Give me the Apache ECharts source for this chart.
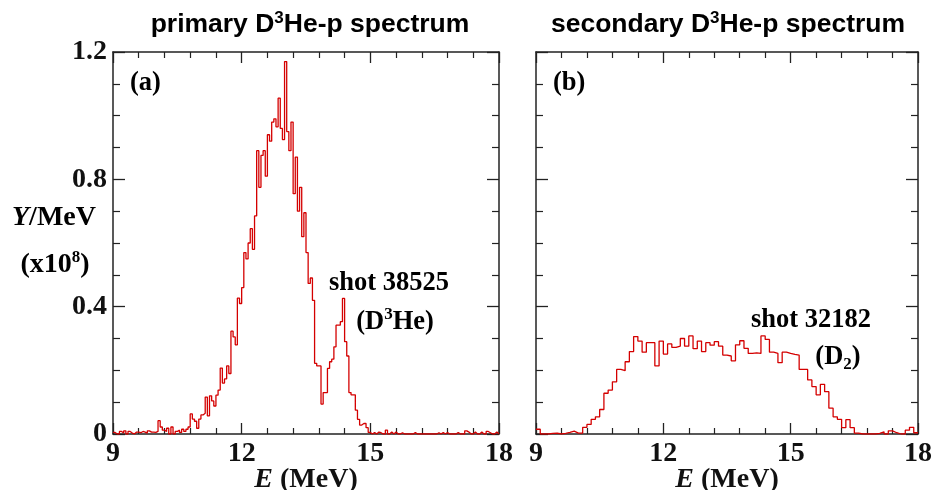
<!DOCTYPE html>
<html><head><meta charset="utf-8">
<script src="https://cdn.jsdelivr.net/npm/echarts@6/dist/echarts.min.js"></script>
<style>html,body{margin:0;padding:0;background:#fff}#c{width:937px;height:490px}</style>
</head><body><div id="c"></div>
<script>
// ---- data ----
const xTicks = [9, 12, 15, 18];
const yTicks = [0, 0.4, 0.8, 1.2];
const primaryBinStart = 9, primaryBinWidth = 0.05;
const secondaryBinStart = 9, secondaryBinWidth = 0.1;
const primaryCounts = [
  0.005,0,0,0.008,0.003,0.01,0,0.008,0.003,0,
  0.006,0.006,0.004,0.008,0.006,0.003,0.01,0.006,0.006,0.005,
  0.008,0.042,0.022,0.012,0.008,0.018,0,0.022,0,0.008,
  0.012,0.005,0.015,0.008,0.015,
  0.022,0.063,0.047,0.04,0.018,0.047,0.06,0.065,0.116,0.057,
  0.12,0.104,0.088,0.122,0.138,0.207,0.16,0.173,0.214,0.19,
  0.323,0.305,0.28,0.427,0.41,0.46,
  0.57,0.55,0.60,0.645,0.58,0.685,0.89,0.775,0.875,0.89,
  0.81,0.94,0.92,0.98,0.99,0.965,1.055,0.96,0.925,1.17,
  0.95,0.89,0.98,0.755,0.87,0.70,0.775,0.62,0.695,
  0.57,0.473,0.49,0.42,0.222,0.214,0.214,0.094,0.13,0.13,
  0.206,0.227,0.235,0.274,0.342,0.342,0.353,0.426,0.29,0.245,
  0.13,0.123,0.123,0.075,0.046,0.028,0.033,0.033,0.02,0.005,
  0,0.005,0,0.006,0.004,0,0,0.012,0,0.006,
  0,0.006,0,0,0.004,0,0,0,0,0,
  0.005,0,0,0,0,0,0,0,0,0,
  0,0.004,0,0.005,0,0.005,0,0,0,0,
  0.005,0,0,0,0.01,0.006,0,0,0.006,0,
  0,0.006,0,0,0.008,0.004,0,0,0.006,0
];
const secondaryCounts = [
  0.015,0,0,0.002,0.003,0,0.002,0.005,0.009,0.003,
  0.003,0.021,0.03,0.046,0.054,0.077,0.128,0.138,0.164,0.203,
  0.199,0.227,0.259,0.306,0.292,0.257,0.287,0.287,0.214,0.292,
  0.251,0.283,0.272,0.276,0.30,0.276,0.308,0.268,0.292,0.259,
  0.287,0.279,0.29,0.276,0.248,0.245,0.23,0.28,0.293,0.269,
  0.253,0.255,0.253,0.308,0.297,0.257,0.253,0.224,0.257,0.253,
  0.25,0.248,0.203,0.203,0.17,0.149,0.123,0.156,0.133,0.081,
  0.054,0.046,0.02,0.045,0.02,0.003,0,0,0,0,
  0.002,0.007,0,0.01,0.004,0,0,0.012,0.021,0.004
];

// ---- build ----
function stepData(start, w, vals) {
  const d = vals.map((v, i) => [+(start + i * w).toFixed(4), v]);
  d.push([+(start + vals.length * w).toFixed(4), vals[vals.length - 1]]);
  return d;
}
const SERIF = 'Liberation Serif';
const SANS = 'Liberation Sans';
const AX = '#222';
const RED = '#d40000';
const LBL = 28;
const grids = [
  { left: 113, top: 52, width: 386, height: 382, outerBoundsMode: 'none', containLabel: false },
  { left: 536, top: 52, width: 382, height: 382, outerBoundsMode: 'none', containLabel: false }
];
function xAx(g, pos, labels) {
  return {
    type: 'value', gridIndex: g, position: pos, min: xTicks[0], max: xTicks[xTicks.length - 1], interval: 3,
    axisLine: { show: true, onZero: false, lineStyle: { color: AX, width: 1.5 } },
    axisTick: { show: true, inside: true, length: 11, lineStyle: { color: AX, width: 1.3 } },
    minorTick: { show: true, splitNumber: 5, length: 6, lineStyle: { color: AX, width: 1.2 } },
    splitLine: { show: false },
    axisLabel: { show: labels, margin: 6, verticalAlign: 'top', lineHeight: LBL, hideOverlap: false,
      fontFamily: SERIF, fontWeight: 'bold', fontSize: LBL, color: '#111' },
    name: labels ? '{i|E} (MeV)' : '', nameLocation: 'middle', nameGap: 32, nameMoveOverlap: false,
    nameTextStyle: { fontFamily: SERIF, fontWeight: 'bold', fontSize: LBL, color: '#111', lineHeight: LBL,
      rich: { i: { fontFamily: SERIF, fontWeight: 'bold', fontStyle: 'italic', fontSize: LBL, color: '#111', lineHeight: LBL } } }
  };
}
function yAx(g, pos, labels) {
  return {
    type: 'value', gridIndex: g, position: pos, min: yTicks[0], max: yTicks[yTicks.length - 1], interval: 0.4,
    axisLine: { show: true, onZero: false, lineStyle: { color: AX, width: 1.5 } },
    axisTick: { show: true, inside: true, length: 12, lineStyle: { color: AX, width: 1.3 } },
    minorTick: { show: true, splitNumber: 4, length: 7, lineStyle: { color: AX, width: 1.2 } },
    splitLine: { show: false },
    axisLabel: { show: labels, margin: 6, verticalAlign: 'middle', lineHeight: LBL, hideOverlap: false,
      verticalAlignMinLabel: 'middle', verticalAlignMaxLabel: 'middle',
      fontFamily: SERIF, fontWeight: 'bold', fontSize: LBL, color: '#111',
      formatter: v => (v === 0 ? '0' : v.toFixed(1)) }
  };
}
const rich = {
  n: { fontFamily: SERIF, fontWeight: 'bold', fontSize: 26.5, color: '#111', lineHeight: 32 },
  ax: { fontFamily: SERIF, fontWeight: 'bold', fontSize: 28, color: '#111', lineHeight: 32 },
  axi: { fontFamily: SERIF, fontWeight: 'bold', fontStyle: 'italic', fontSize: 28, color: '#111', lineHeight: 32 },
  sup: { fontFamily: SERIF, fontWeight: 'bold', fontSize: 17, color: '#111', lineHeight: 32, verticalAlign: 'top' },
  sub: { fontFamily: SERIF, fontWeight: 'bold', fontSize: 17, color: '#111', lineHeight: 32, verticalAlign: 'bottom' },
  t: { fontFamily: SANS, fontWeight: 'bold', fontSize: 26.5, color: '#111', lineHeight: 30 },
  tsup: { fontFamily: SANS, fontWeight: 'bold', fontSize: 17, color: '#111', lineHeight: 30, verticalAlign: 'top' }
};
function txt(x, y, text, align) {
  return { type: 'text', x: x, y: y, style: { text: text, rich: rich, align: align || 'center', verticalAlign: 'middle' } };
}
const option = {
  animation: false,
  backgroundColor: '#fff',
  grid: grids,
  xAxis: [xAx(0, 'bottom', true), xAx(0, 'top', false), xAx(1, 'bottom', true), xAx(1, 'top', false)],
  yAxis: [yAx(0, 'left', true), yAx(0, 'right', false), yAx(1, 'left', false), yAx(1, 'right', false)],
  series: [
    { type: 'line', xAxisIndex: 0, yAxisIndex: 0, step: 'end', symbol: 'none',
      lineStyle: { color: RED, width: 1.3 }, data: stepData(primaryBinStart, primaryBinWidth, primaryCounts) },
    { type: 'line', xAxisIndex: 2, yAxisIndex: 2, step: 'end', symbol: 'none',
      lineStyle: { color: RED, width: 1.3 }, data: stepData(secondaryBinStart, secondaryBinWidth, secondaryCounts) }
  ],
  graphic: [
    txt(310, 25, '{t|primary D}{tsup|3}{t|He-p spectrum}'),
    txt(728, 25, '{t|secondary D}{tsup|3}{t|He-p spectrum}'),
    txt(130, 83, '{n|(a)}', 'left'),
    txt(553, 83, '{n|(b)}', 'left'),
    txt(389, 283, '{n|shot 38525}'),
    txt(395, 322, '{n|(D}{sup|3}{n|He)}'),
    txt(811, 320, '{n|shot 32182}'),
    txt(838, 357, '{n|(D}{sub|2}{n|)}'),
    txt(54, 218, '{axi|Y}{ax|/MeV}'),
    txt(55, 265, '{ax|(x10}{sup|8}{ax|)}')
  ]
};
const chart = echarts.init(document.getElementById('c'), null, { renderer: 'canvas' });
chart.setOption(option);
</script></body></html>
